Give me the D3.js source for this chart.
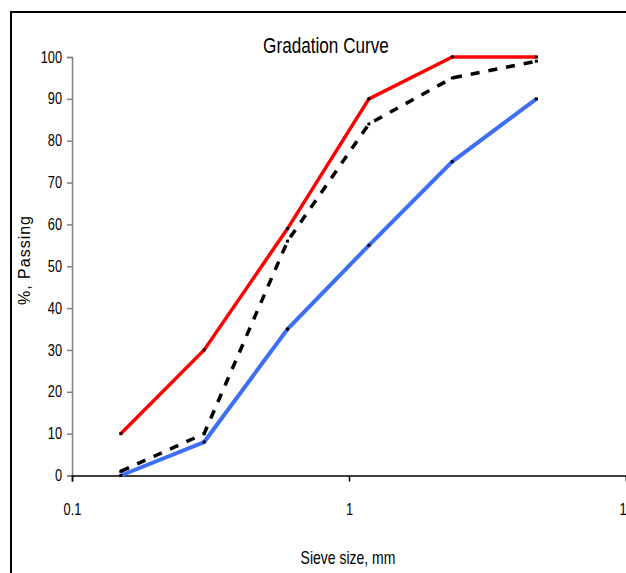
<!DOCTYPE html>
<html>
<head>
<meta charset="utf-8">
<script src="https://cdn.jsdelivr.net/npm/d3@7"></script>
<style>
  body { margin: 0; background: #fff; }
  svg { display: block; font-family: "Liberation Sans", Arial, sans-serif; }
</style>
</head>
<body>
<svg id="chart" width="626" height="573"></svg>
<script>
// sieve sizes (mm) and % passing
const sieveSizes = [0.15, 0.3, 0.6, 1.18, 2.36, 4.75];
const upperLimit = [10, 30, 59, 90, 100, 100];
const lowerLimit = [0, 8, 35, 55, 75, 90];
const sample = [1, 10, 56, 84, 95, 99];
const xTicks = [0.1, 1, 10];
const yTicks = [0, 10, 20, 30, 40, 50, 60, 70, 80, 90, 100];

const svg = d3.select("#chart");
const squeeze = 0.8; // narrow font look

// outer frame (runs off the right/bottom of the window)
svg.append("rect")
  .attr("x", 11).attr("y", 12)
  .attr("width", 700).attr("height", 700)
  .attr("fill", "none")
  .attr("stroke", "#000")
  .attr("stroke-width", 2);

var xScale = d3.scaleLog().domain([0.1, 10]).range([72, 626]),
    yScale = d3.scaleLinear().domain([0, 100]).range([475.5, 57]);

// y axis (grey)
var yAxis = svg.append("g")
  .attr("transform", "translate(72,0)")
  .call(d3.axisLeft(yScale).tickValues(yTicks).tickSize(5));
yAxis.select(".domain").attr("stroke", "#808080").attr("stroke-width", 1.5);
yAxis.selectAll(".tick line").attr("stroke", "#808080").attr("stroke-width", 1.5);
yAxis.selectAll(".tick text")
  .attr("x", -10 / squeeze)
  .attr("transform", "scale(" + squeeze + ",1)")
  .attr("font-size", 16)
  .attr("fill", "#000");

// x axis (black)
var xAxis = svg.append("g")
  .attr("transform", "translate(0,475.5)")
  .call(d3.axisBottom(xScale).tickValues(xTicks).tickFormat(d3.format("")).tickSize(6).tickPadding(22));
xAxis.select(".domain").attr("stroke", "#000").attr("stroke-width", 1.5);
xAxis.selectAll(".tick line").attr("stroke", "#000").attr("stroke-width", 1.5);
xAxis.selectAll(".tick text")
  .attr("transform", "scale(" + squeeze + ",1)")
  .attr("font-size", 16)
  .attr("fill", "#000");

function drawSeries(values, color, dash, width) {
  var line = d3.line()
    .x(function(d, i) { return xScale(sieveSizes[i]); })
    .y(function(d) { return yScale(d); });
  svg.append("path")
    .datum(values)
    .attr("d", line)
    .attr("fill", "none")
    .attr("stroke", color)
    .attr("stroke-width", width)
    .attr("stroke-dasharray", dash)
    .attr("stroke-linejoin", "miter");
  svg.selectAll(null)
    .data(values)
    .enter().append("rect")
    .attr("x", function(d, i) { return xScale(sieveSizes[i]) - 1.5; })
    .attr("y", function(d) { return yScale(d) - 1.5; })
    .attr("width", 3).attr("height", 3)
    .attr("fill", "#000");
}

drawSeries(sample, "#000", "9,9", 3.5);
drawSeries(upperLimit, "#ff0000", null, 3.5);
drawSeries(lowerLimit, "#3d6ff5", null, 4);

// titles
svg.append("text")
  .attr("transform", "translate(326,53) scale(0.78,1)")
  .attr("text-anchor", "middle")
  .attr("font-size", 22)
  .text("Gradation Curve");

svg.append("text")
  .attr("transform", "translate(348,564) scale(" + squeeze + ",1)")
  .attr("text-anchor", "middle")
  .attr("font-size", 17.5)
  .text("Sieve size, mm");

svg.append("text")
  .attr("transform", "translate(30,260) rotate(-90)")
  .attr("text-anchor", "middle")
  .attr("font-size", 16)
  .attr("letter-spacing", 1)
  .text("%, Passing");
</script>
</body>
</html>
